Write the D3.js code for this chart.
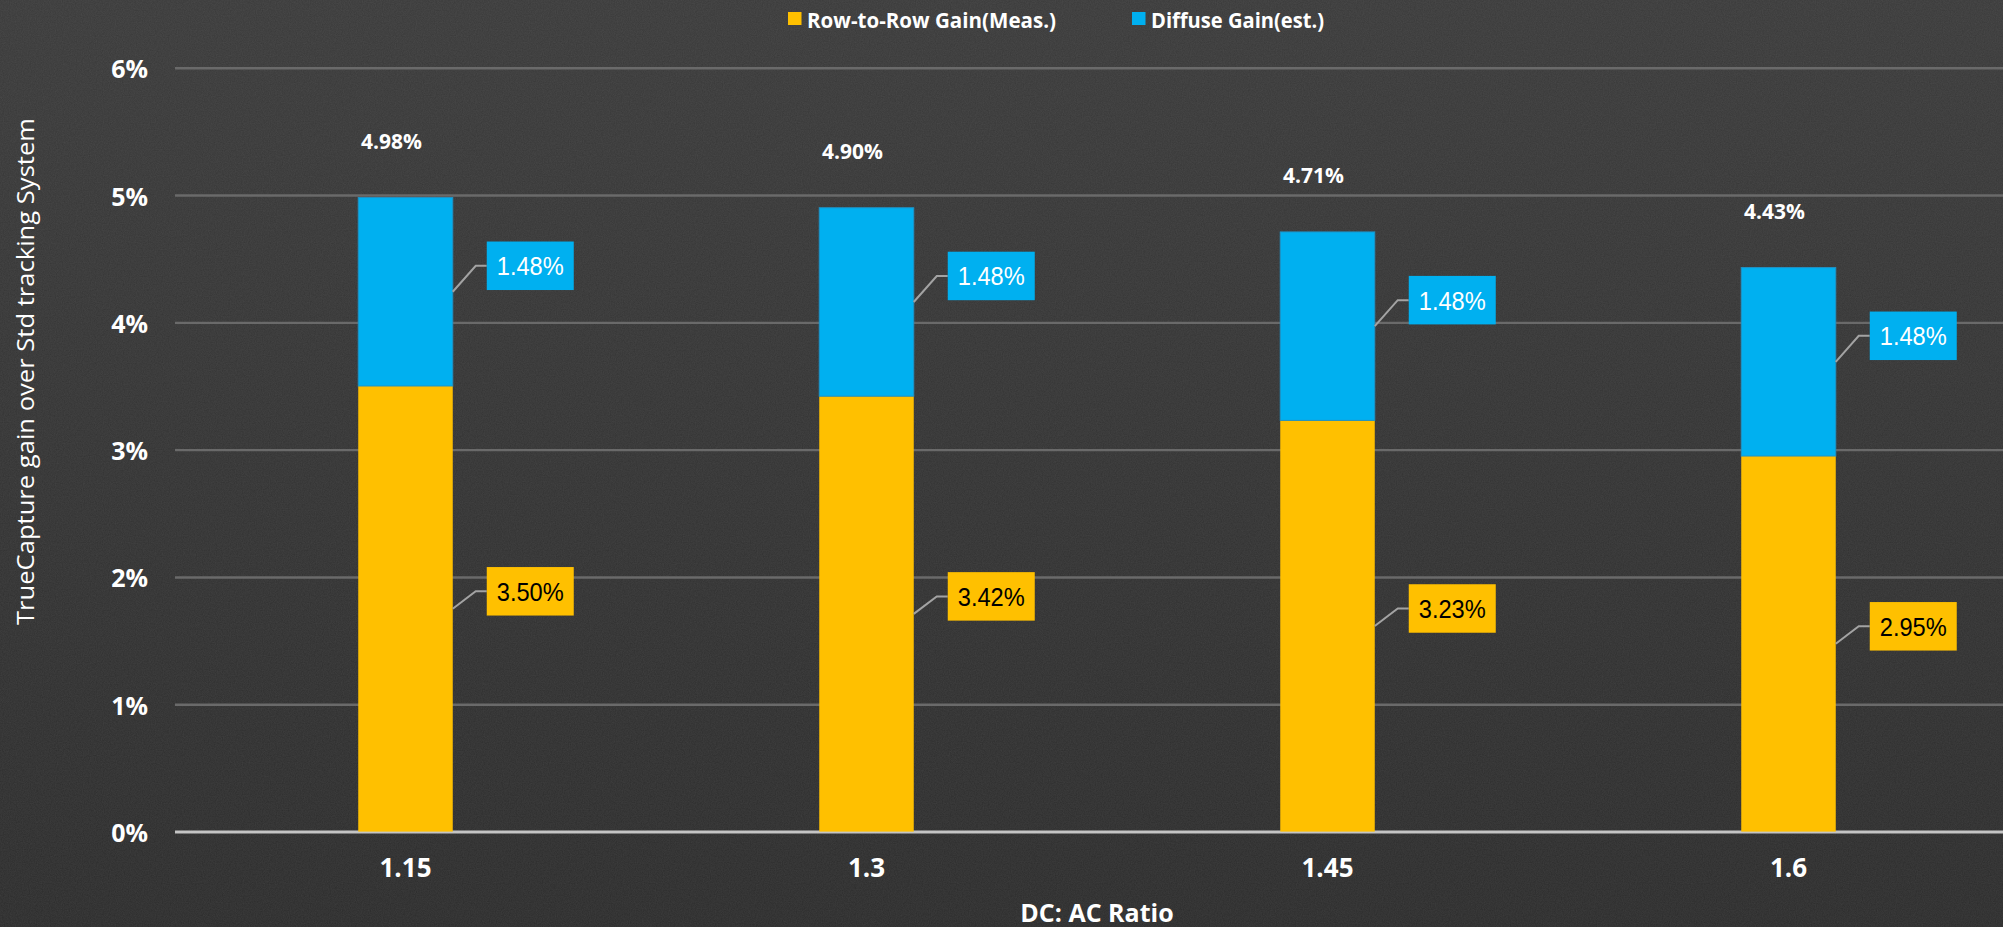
<!DOCTYPE html>
<html>
<head>
<meta charset="utf-8">
<script src="https://cdn.jsdelivr.net/npm/d3@7/dist/d3.min.js"></script>
<style>
  html, body { margin: 0; padding: 0; background: #303030; overflow: hidden; }
  svg { display: block; }
</style>
</head>
<body>
<svg id="chart" width="2003" height="927"></svg>
<script>
// ---- data ----
const categories = ["1.15", "1.3", "1.45", "1.6"];
const seriesNames = ["Row-to-Row Gain(Meas.)", "Diffuse Gain(est.)"];
const rowToRowGain = [3.50, 3.42, 3.23, 2.95];   // %
const diffuseGain = [1.48, 1.48, 1.48, 1.48];    // %
const yTickValues = [0, 1, 2, 3, 4, 5, 6];        // %
const xAxisTitle = "DC: AC Ratio";
const yAxisTitle = "TrueCapture gain over Std tracking System";

// ---- layout / style ----
const W = 2003, H = 927;
const plot = { left: 175, right: 2019, top: 67.7, bottom: 831.6 };
const colors = { row: "#FFC000", diffuse: "#00B0F0" };
const uiFont = "'Open Sans', 'Noto Sans', sans-serif";
const boxFont = "'Liberation Sans', Arial, sans-serif";

const rows = categories.map((c, i) => ({ cat: c, row: rowToRowGain[i], diffuse: diffuseGain[i] }));
const stacked = d3.stack().keys(["row", "diffuse"])(rows);

const svg = d3.select("#chart");
const defs = svg.append("defs");

// charcoal backdrop with a fine grain
const bg = defs.append("linearGradient").attr("id", "bgGrad").attr("x1", 0).attr("y1", 0).attr("x2", 0).attr("y2", 1);
bg.append("stop").attr("offset", "0%").attr("stop-color", "#3a3a3a");
bg.append("stop").attr("offset", "100%").attr("stop-color", "#2c2c2c");
const grain = defs.append("filter").attr("id", "grain").attr("x", 0).attr("y", 0).attr("width", "100%").attr("height", "100%");
grain.append("feTurbulence").attr("type", "fractalNoise").attr("baseFrequency", 0.85).attr("numOctaves", 2).attr("seed", 4).attr("result", "n");
grain.append("feColorMatrix").attr("type", "matrix")
  .attr("values", "0 0 0 0 1  0 0 0 0 1  0 0 0 0 1  0 0 0 0.09 0");
svg.append("rect").attr("width", W).attr("height", H).attr("fill", "url(#bgGrad)");
svg.append("rect").attr("width", W).attr("height", H).attr("filter", "url(#grain)").attr("opacity", 0.9);

// ---- scales ----
const x = d3.scaleBand().domain(categories).range([plot.left, plot.right])
  .paddingInner(0.795).paddingOuter(0.795 / 2);
const y = d3.scaleLinear().domain([0, 6]).range([plot.bottom, plot.top]);

// ---- gridlines + y tick labels ----
const yAxis = d3.axisLeft(y).tickValues(yTickValues).tickFormat(d => d + "%")
  .tickSize(-(plot.right - plot.left)).tickPadding(27);
const gy = svg.append("g").attr("transform", `translate(${plot.left},0)`).call(yAxis);
gy.select(".domain").remove();
gy.selectAll(".tick line").attr("stroke", "#6a6a6a").attr("stroke-width", 2.4)
  .filter(d => d === 0).attr("stroke", "#c4c4c4").attr("stroke-width", 3);
gy.selectAll(".tick text").attr("fill", "#ffffff").attr("font-family", uiFont)
  .attr("font-weight", 700).attr("font-size", 25).attr("dy", "0.4em");

// ---- stacked bars ----
const layerColor = { row: colors.row, diffuse: colors.diffuse };
svg.append("g").selectAll("g").data(stacked).join("g")
  .attr("fill", d => layerColor[d.key])
  .selectAll("rect").data(d => d.map(p => Object.assign(p, { key: d.key }))).join("rect")
  .attr("x", p => x(p.data.cat))
  .attr("width", x.bandwidth())
  .attr("y", p => y(p[1]))
  .attr("height", p => y(p[0]) - y(p[1]))
  .attr("stroke", p => p.key === "diffuse" ? "#1f93c7" : "none")
  .attr("stroke-width", 1);

// ---- x axis labels ----
const xAxis = d3.axisBottom(x).tickSize(0).tickPadding(0);
const gx = svg.append("g").attr("transform", `translate(0,${plot.bottom})`).call(xAxis);
gx.select(".domain").remove();
gx.selectAll(".tick text").attr("fill", "#ffffff").attr("font-family", uiFont)
  .attr("font-weight", 700).attr("font-size", 26).attr("dy", null).attr("y", 45.5);

// ---- callout labels for each segment ----
const boxW = 87, boxH = 48.5, boxGap = 34, elbow = 11;
const lift = { row: 17.5, diffuse: 26 };
const callouts = [];
stacked.forEach(layer => {
  layer.forEach(p => {
    const segMid = (y(p[0]) + y(p[1])) / 2;
    const barRight = x(p.data.cat) + x.bandwidth();
    callouts.push({
      key: layer.key,
      value: p[1] - p[0],
      x0: barRight, y0: segMid,
      bx: barRight + boxGap, cy: segMid - lift[layer.key]
    });
  });
});
const cg = svg.append("g");
cg.selectAll("path").data(callouts).join("path")
  .attr("d", c => `M${c.x0},${c.y0}L${c.bx - elbow},${c.cy}L${c.bx},${c.cy}`)
  .attr("fill", "none").attr("stroke", "#a3a3a3").attr("stroke-width", 2);
cg.selectAll("rect").data(callouts).join("rect")
  .attr("x", c => c.bx).attr("y", c => c.cy - boxH / 2)
  .attr("width", boxW).attr("height", boxH)
  .attr("fill", c => layerColor[c.key]);
cg.selectAll("text").data(callouts).join("text")
  .attr("x", c => c.bx + boxW / 2).attr("y", c => c.cy + 9.5)
  .attr("text-anchor", "middle")
  .attr("font-family", boxFont).attr("font-size", 25)
  .attr("textLength", 67).attr("lengthAdjust", "spacingAndGlyphs")
  .attr("fill", c => c.key === "diffuse" ? "#ffffff" : "#000000")
  .text(c => c.value.toFixed(2) + "%");

// ---- totals above bars ----
svg.append("g").selectAll("text").data(stacked[1]).join("text")
  .attr("x", p => x(p.data.cat) + x.bandwidth() / 2 - 14)
  .attr("y", p => y(p[1]) - 48.5)
  .attr("text-anchor", "middle")
  .attr("font-family", uiFont).attr("font-weight", 700).attr("font-size", 21)
  .attr("fill", "#ffffff")
  .text(p => p[1].toFixed(2) + "%");

// ---- axis titles ----
svg.append("text")
  .attr("x", (plot.left + plot.right) / 2).attr("y", 921.5)
  .attr("text-anchor", "middle")
  .attr("font-family", uiFont).attr("font-weight", 700).attr("font-size", 25)
  .attr("fill", "#ffffff").text(xAxisTitle);
svg.append("text")
  .attr("transform", "translate(33.5,371.5) rotate(-90)")
  .attr("text-anchor", "middle")
  .attr("font-family", uiFont).attr("font-size", 23.4)
  .attr("textLength", 507).attr("lengthAdjust", "spacingAndGlyphs")
  .attr("fill", "#ffffff").text(yAxisTitle);

// ---- legend ----
const legendItems = [
  { name: seriesNames[0], color: colors.row, x: 788, textW: 249 },
  { name: seriesNames[1], color: colors.diffuse, x: 1132, textW: 173 }
];
const lg = svg.append("g").selectAll("g").data(legendItems).join("g")
  .attr("transform", d => `translate(${d.x},0)`);
lg.append("rect").attr("x", 0).attr("y", 12).attr("width", 13.5).attr("height", 13)
  .attr("fill", d => d.color);
lg.append("text").attr("x", 19).attr("y", 28)
  .attr("font-family", uiFont).attr("font-weight", 700).attr("font-size", 21)
  .attr("textLength", d => d.textW).attr("lengthAdjust", "spacingAndGlyphs")
  .attr("fill", "#ffffff").text(d => d.name);
</script>
</body>
</html>
